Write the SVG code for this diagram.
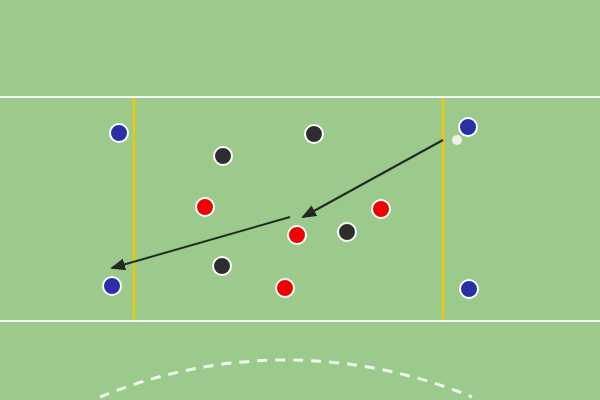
<svg xmlns="http://www.w3.org/2000/svg" width="600" height="400" viewBox="0 0 600 400">
<style>
.line{stroke:#f4f8f0;stroke-width:2;fill:none}
.yel{stroke:#f0c800;stroke-width:2.5}
.p{stroke:#fff;stroke-width:2}
.blue{fill:#2a2fa8}
.black{fill:#2e2e2e}
.red{fill:#f00000}
.arrow{stroke:#222a22;stroke-width:2;fill:none;marker-end:url(#ah)}
</style>
<defs>
<marker id="ah" viewBox="0 0 15 12" refX="13" refY="6" markerWidth="15" markerHeight="12" orient="auto" markerUnits="userSpaceOnUse">
<path d="M0,0 L15,6 L0,12 z" fill="#222a22"/>
</marker>
</defs>
<rect width="600" height="400" fill="#9cc98c"/>
<line class="line" x1="0" y1="97" x2="600" y2="97"/>
<line class="line" x1="0" y1="321" x2="600" y2="321"/>
<line class="yel" x1="134" y1="98" x2="134" y2="319"/>
<line class="yel" x1="443" y1="98" x2="443" y2="319"/>
<path d="M100,397 A486,486 0 0 1 472,397" stroke="#f4f8f0" stroke-width="3" fill="none" stroke-dasharray="10,8"/>
<g id="connectors">
<line class="arrow" x1="443" y1="140" x2="303" y2="217"/>
<line class="arrow" x1="290" y1="217" x2="112" y2="268"/>
</g>
<g id="ball"><circle cx="457" cy="140" r="5" fill="#eef0ea"/></g>
<g id="b1"><circle class="p blue" cx="119" cy="133" r="9"/></g>
<g id="b2"><circle class="p blue" cx="468" cy="127" r="9"/></g>
<g id="b3"><circle class="p blue" cx="112" cy="286" r="9"/></g>
<g id="b4"><circle class="p blue" cx="469" cy="289" r="9"/></g>
<g id="k1"><circle class="p black" cx="223" cy="156" r="9"/></g>
<g id="k2"><circle class="p black" cx="314" cy="134" r="9"/></g>
<g id="k3"><circle class="p black" cx="347" cy="232" r="9"/></g>
<g id="k4"><circle class="p black" cx="222" cy="266" r="9"/></g>
<g id="r1"><circle class="p red" cx="205" cy="207" r="9"/></g>
<g id="r2"><circle class="p red" cx="381" cy="209" r="9"/></g>
<g id="r3"><circle class="p red" cx="297" cy="235" r="9"/></g>
<g id="r4"><circle class="p red" cx="285" cy="288" r="9"/></g>
</svg>
